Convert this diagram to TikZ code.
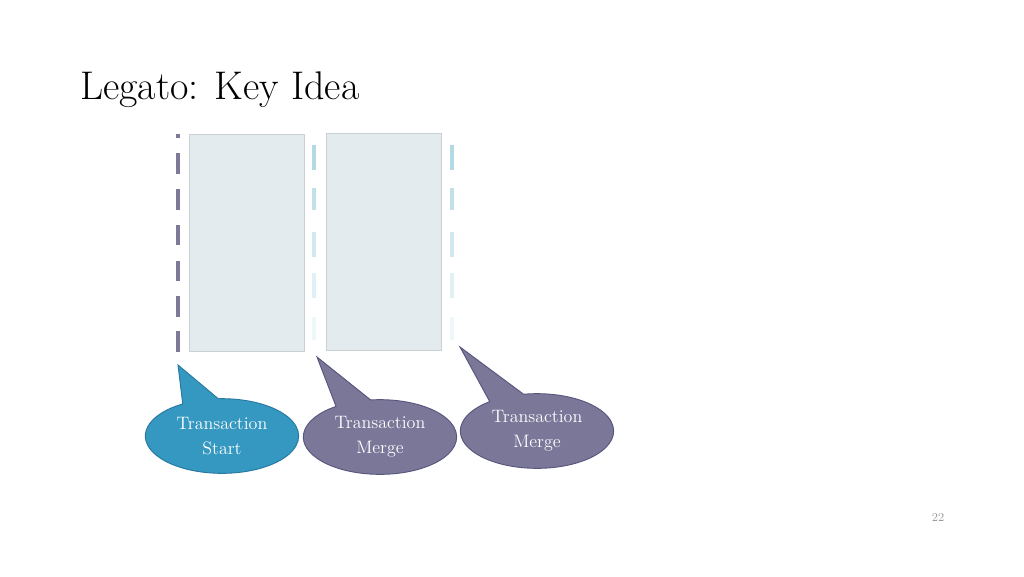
\documentclass[tikz,border=0pt]{standalone}
\usetikzlibrary{shapes.callouts}
\definecolor{boxfill}{RGB}{228,235,238}
\definecolor{boxline}{RGB}{200,208,210}
\definecolor{tealc}{RGB}{52,152,192}
\definecolor{tealline}{RGB}{40,120,160}
\definecolor{purc}{RGB}{122,119,153}
\definecolor{purline}{RGB}{88,86,125}
\definecolor{dashpur}{RGB}{125,122,153}
\definecolor{fadeblue}{RGB}{160,208,220}
\definecolor{pagegray}{RGB}{150,150,150}
\tikzset{
  panel/.style={draw=boxline, line width=0.8pt, fill=boxfill},
  bubble/.style={ellipse callout, inner sep=0pt, minimum width=115pt, minimum height=56pt,
    callout pointer arc=28, text=white, align=center, font=\fontsize{13.5}{19}\selectfont, line width=0.7pt},
  startbubble/.style={bubble, fill=tealc, draw=tealline},
  mergebubble/.style={bubble, fill=purc, draw=purline},
}
\begin{document}
\begin{tikzpicture}[x=0.75pt,y=-0.75pt]
\useasboundingbox (0,0) rectangle (1024,576);
\node[anchor=base west, inner sep=0pt, font=\fontsize{30}{34}\selectfont] (title) at (80,99) {Legato: Key Idea};

\node[panel, minimum width=86pt, minimum height=163pt, inner sep=0pt, anchor=north west] (p1) at (189,134) {};
\node[panel, minimum width=86pt, minimum height=163pt, inner sep=0pt, anchor=north west] (p2) at (326,133) {};

% dashed line 1
\foreach \a/\b in {134/138,153/174,189/210,225/245,261/281,296/317,331/352}
  \draw[dashpur, line width=3pt] (177.5,\a) -- (177.5,\b);
% dashed lines 2 and 3 (fading)
\foreach \xx in {314,452}{
  \foreach \a/\b/\c in {145/170/80,188/210/65,232/257/48,273/298/32,317/340/18}{
    \draw[draw=fadeblue!\c!white, line width=3.5pt] (\xx,\a) -- (\xx,\b);
  }
}

\coordinate (t1) at (178,365);
\coordinate (t2) at (317,357);
\coordinate (t3) at (460,347);
\node[startbubble, callout absolute pointer={(t1)}] (c1) at (222,436) {Transaction\\Start};
\node[mergebubble, callout absolute pointer={(t2)}] (c2) at (380,437) {Transaction\\Merge};
\node[mergebubble, callout absolute pointer={(t3)}] (c3) at (537,431) {Transaction\\Merge};

\node[text=pagegray, font=\fontsize{9}{10}\selectfont] (pg) at (938,517) {22};
\end{tikzpicture}
\end{document}
